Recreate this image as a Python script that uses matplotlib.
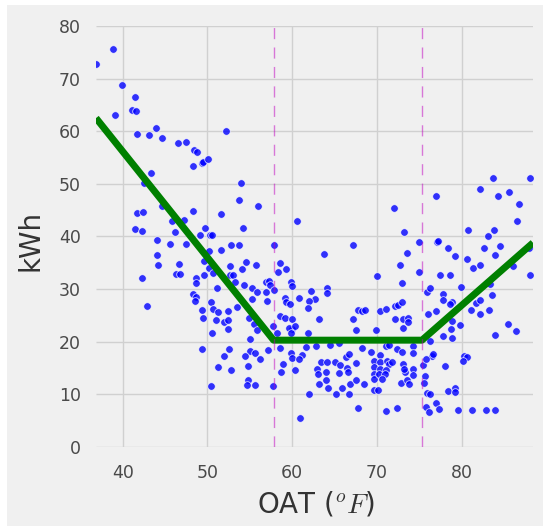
import matplotlib
matplotlib.use("Agg")
import matplotlib.pyplot as plt
from matplotlib.patches import Rectangle

# Daily energy use vs outdoor air temperature, with a 3-segment change-point fit.

# cold-side days (heating regime)
oat_cold = [
    36.85, 38.8, 39.9, 39.1, 41.4, 41.1, 41.6, 41.7, 43.1, 43.9,
    44.6, 46.5, 47.5, 48.4, 48.8, 48.3, 49.3, 49.5, 50.1, 52.2,
    43.3, 42.5, 54.0, 53.7, 56.0, 41.7, 42.4, 44.6, 48.3, 51.6,
    41.5, 42.3, 45.8, 47.2, 46.2, 49.7, 49.1, 50.3, 50.5, 54.2,
    44.1, 45.6, 47.5, 51.6, 52.8, 53.7, 57.8, 50.2, 44.1, 60.6,
    44.2, 46.6, 49.6, 52.7, 54.1, 54.5, 55.7, 58.5, 59.3, 50.2,
    42.3, 46.3, 46.8, 42.9, 48.6, 48.6, 49.6, 48.3, 48.6, 48.5,
    51.1, 50.4, 50.6, 49.4, 51.2, 52.4, 49.5, 51.0, 52.0, 52.4,
    52.4, 50.5, 49.4, 52.5, 51.9, 51.3, 52.8, 50.4, 52.7, 53.0,
    54.3, 55.3, 55.8, 53.2, 55.2, 56.9, 57.3, 57.4, 56.9, 57.0,
    58.3, 59.8, 60.0, 59.1, 59.3, 59.7, 53.5, 54.9, 55.5, 55.9,
    55.0, 57.7, 58.5, 59.2, 60.0, 60.0, 59.6, 57.1, 55.0, 55.6,
    56.2, 54.4, 54.8, 58.9, 58.7, 59.8, 60.0, 54.8, 54.7, 55.6,
    57.7, 60.3, 50.7, 58.5,
]
kwh_cold = [
    72.8, 75.7, 68.7, 63.0, 66.5, 64.1, 63.9, 59.5, 59.3, 60.7,
    58.8, 57.7, 57.9, 56.5, 56.0, 53.3, 54.0, 54.1, 54.8, 60.1,
    52.0, 50.2, 50.2, 47.0, 45.8, 44.4, 44.7, 45.8, 44.8, 44.2,
    41.5, 41.0, 42.9, 43.2, 40.8, 41.7, 40.3, 40.3, 40.3, 41.7,
    39.4, 38.6, 38.6, 37.5, 38.4, 38.4, 38.4, 37.2, 36.5, 43.0,
    34.6, 34.8, 35.4, 34.3, 33.8, 35.2, 34.5, 35.0, 33.9, 34.0,
    32.1, 32.8, 32.8, 26.8, 32.2, 31.2, 32.6, 29.1, 28.5, 27.8,
    30.2, 27.5, 26.3, 26.1, 25.6, 25.8, 24.6, 24.1, 23.8, 24.1,
    22.5, 21.7, 18.6, 18.6, 17.3, 15.2, 14.7, 11.6, 32.7, 32.7,
    30.7, 30.2, 29.5, 31.3, 28.2, 31.3, 31.6, 30.7, 29.4, 27.7,
    33.2, 31.4, 30.6, 28.3, 27.5, 27.2, 26.6, 24.5, 23.3, 22.2,
    20.6, 22.9, 24.9, 24.5, 24.3, 22.4, 22.6, 18.4, 18.2, 17.8,
    16.8, 17.2, 15.3, 15.7, 14.3, 17.8, 17.0, 12.7, 11.7, 11.7,
    11.6, 14.6, 33.0, 18.9,
]

# mild days (base load)
oat_base = [
    67.2, 63.7, 73.2, 74.9, 73.5, 72.7, 74.9, 70.0, 73.0, 57.8,
    60.8, 62.2, 62.7, 62.0, 61.8, 64.1, 64.1, 63.1, 60.3, 58.2,
    59.8, 61.9, 67.2, 67.5, 67.7, 68.2, 68.6, 69.9, 70.3, 71.0,
    72.1, 72.5, 73.0, 72.1, 73.1, 73.6, 73.1, 73.6, 75.9, 76.0,
    62.8, 64.4, 68.2, 69.3, 71.1, 71.4, 72.3, 74.3, 61.1, 60.8,
    63.4, 64.1, 65.1, 65.6, 66.3, 66.7, 67.5, 66.5, 62.9, 63.0,
    64.0, 65.5, 66.6, 64.0, 63.1, 64.2, 65.2, 65.9, 66.8, 67.5,
    66.7, 68.5, 62.0, 60.9, 67.7, 69.6, 69.6, 69.6, 69.6, 70.3,
    70.3, 70.3, 70.2, 71.2, 71.4, 71.1, 70.9, 71.8, 70.6, 69.6,
    70.1, 71.1, 72.4, 72.9, 74.2, 73.1, 73.3, 73.2, 74.3, 74.3,
    72.8, 73.5, 73.8, 75.4, 61.6, 65.5,
]
kwh_base = [
    38.4, 36.7, 40.9, 38.9, 36.9, 34.5, 33.3, 32.4, 31.2, 29.9,
    28.4, 29.7, 28.2, 27.8, 26.5, 30.2, 29.3, 24.4, 23.0, 21.6,
    21.7, 21.7, 24.4, 22.3, 26.1, 25.8, 26.1, 22.3, 25.8, 26.3,
    26.8, 26.9, 27.5, 24.3, 24.3, 24.6, 22.6, 23.8, 29.4, 25.3,
    19.2, 19.3, 18.8, 18.1, 19.2, 19.3, 18.7, 19.2, 17.4, 16.8,
    16.2, 16.2, 16.2, 15.6, 17.1, 17.6, 15.9, 15.1, 14.8, 13.8,
    14.3, 14.0, 14.2, 12.7, 11.9, 11.2, 10.1, 11.3, 11.9, 12.7,
    10.1, 11.9, 10.1, 5.6, 7.4, 16.3, 15.2, 13.8, 13.0, 17.4,
    16.2, 14.9, 13.9, 16.4, 15.7, 14.7, 13.9, 16.1, 13.0, 10.8,
    10.8, 6.9, 7.5, 18.0, 17.8, 15.8, 14.3, 14.9, 14.8, 13.7,
    12.2, 12.7, 11.9, 15.6, 19.0, 19.7,
]

# warm-side days (cooling regime)
oat_warm = [
    76.2, 76.9, 77.8, 77.8, 78.6, 77.4, 79.2, 80.6, 81.3, 82.1,
    79.9, 78.8, 78.6, 78.9, 78.7, 79.8, 78.9, 77.8, 76.2, 81.1,
    81.7, 82.1, 82.2, 83.2, 83.6, 83.3, 86.0, 88.0, 85.4, 86.4,
    83.9, 80.3, 80.6, 80.2, 78.0, 76.5, 76.6, 75.8, 75.7, 75.6,
    75.9, 76.2, 78.4, 79.2, 79.2, 75.8, 76.1, 77.0, 77.3, 79.6,
    81.2, 82.8, 83.9,
    72.0, 76.9, 77.1, 77.2, 78.4, 80.7, 82.1, 82.6, 83.1, 83.8,
    84.5, 83.9, 83.7, 84.3, 85.6, 86.7, 86.5, 88.0, 87.9,
]
kwh_warm = [
    30.2, 25.8, 29.1, 28.0, 32.6, 32.6, 36.2, 35.7, 34.1, 34.6,
    30.4, 27.5, 27.2, 23.9, 22.5, 23.1, 20.7, 21.1, 20.1, 26.1,
    27.3, 28.0, 25.3, 26.1, 28.9, 31.0, 34.3, 32.6, 23.4, 22.1,
    21.2, 17.3, 17.1, 16.3, 15.4, 17.3, 17.6, 16.7, 13.4, 12.2,
    10.2, 10.0, 10.7, 11.3, 10.4, 7.6, 6.7, 8.3, 7.2, 7.0,
    7.0, 7.0, 7.0,
    45.4, 47.7, 38.9, 39.2, 37.9, 41.3, 49.0, 37.9, 40.0, 41.3,
    38.1, 36.5, 51.1, 47.7, 48.5, 46.1, 42.9, 51.1, 37.9,
]

# change-point model: knots of the fitted line
fit_oat = [36.85, 57.8, 75.3, 88.4]
fit_kwh = [62.5, 20.3, 20.3, 38.8]
change_points = [57.8, 75.3]

plt.style.use("fivethirtyeight")
plt.rcParams["mathtext.fontset"] = "cm"

oat = oat_cold + oat_base + oat_warm
kwh = kwh_cold + kwh_base + kwh_warm
assert len(oat) == len(kwh)

fig = plt.figure(figsize=(5.43, 5.26), dpi=100, facecolor="white")
fig.patches.append(Rectangle((7 / 543, 0), 1, 1 - 5 / 526, transform=fig.transFigure,
                             facecolor="#f0f0f0", edgecolor="none", zorder=-10))
ax = fig.add_axes([0.1768, 0.1502, 0.8048, 0.8004])
ax.set_facecolor("#f0f0f0")

ax.scatter(oat, kwh, s=30, color="#0000ff", alpha=0.8, edgecolors="white",
           linewidths=0.6, zorder=2)
ax.plot(fit_oat, fit_kwh, color="green", linewidth=5, solid_capstyle="butt", zorder=3)
for cp in change_points:
    ax.axvline(cp, color="m", alpha=0.5, linewidth=1, linestyle=(0, (8, 6)), zorder=4)

ax.set_xlim(36.85, 88.4)
ax.set_ylim(0, 80)
ax.set_xticks([40, 50, 60, 70, 80])
ax.set_yticks(range(0, 81, 10))
ax.grid(True, color="#d0d0d0", linewidth=1.0)
ax.set_axisbelow(True)
for s in ax.spines.values():
    s.set_visible(False)
ax.tick_params(axis="both", length=0, labelsize=12.5, labelcolor="#4a4a4a")
ax.tick_params(axis="y", pad=11)
ax.tick_params(axis="x", pad=12)

ax.set_xlabel(r"OAT ($^oF$)", fontsize=20, color="#333333")
ax.set_ylabel("kWh", fontsize=20, color="#333333")
ax.xaxis.set_label_coords(0.503, -0.1)
ax.yaxis.set_label_coords(-0.117, 0.49)

fig.savefig("out.png", dpi=100, facecolor=fig.get_facecolor())
